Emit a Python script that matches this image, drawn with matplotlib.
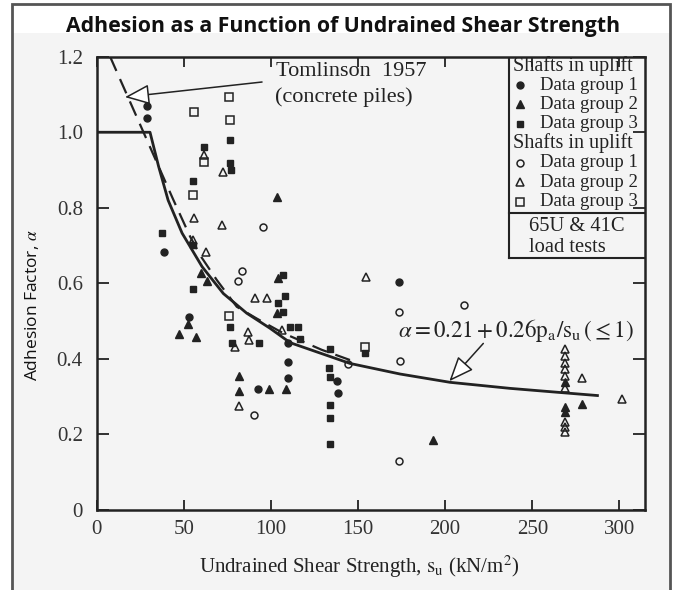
import matplotlib
matplotlib.use("Agg")
import matplotlib.pyplot as plt
from matplotlib.patches import Rectangle
from matplotlib.lines import Line2D

plt.rcParams["font.family"] = "Liberation Serif"
plt.rcParams["mathtext.fontset"] = "stix"

INK = "#222222"

# --- data (s_u in kN/m^2, alpha) ---
# shafts in uplift (filled markers)
up1_x = [28.7, 28.7, 38.6, 53.2, 92.8, 110.0, 110.0, 110.0, 138.1, 138.7, 173.7]
up1_y = [1.070, 1.038, 0.682, 0.512, 0.319, 0.443, 0.393, 0.349, 0.341, 0.310, 0.604]

up2_x = [103.7, 59.9, 63.1, 52.6, 47.4, 57.0, 81.9, 81.9, 99.1, 108.7, 104.2, 103.3,
         193.2, 278.4, 268.8, 268.8, 268.8]
up2_y = [0.828, 0.627, 0.606, 0.492, 0.466, 0.459, 0.355, 0.316, 0.319, 0.319, 0.613, 0.521,
         0.185, 0.281, 0.273, 0.259, 0.340]

up3_x = [76.5, 61.6, 76.5, 76.9, 55.5, 37.3, 55.5, 55.1, 107.1, 108.1, 104.2, 107.1,
         111.0, 115.7, 116.7, 76.5, 77.5, 93.3, 133.9, 133.5, 133.9, 133.9, 133.9, 133.9, 154.0]
up3_y = [0.979, 0.960, 0.919, 0.900, 0.871, 0.734, 0.701, 0.584, 0.622, 0.567, 0.547, 0.525,
         0.485, 0.485, 0.454, 0.484, 0.442, 0.441, 0.425, 0.375, 0.353, 0.278, 0.243, 0.176, 0.415]

# second set (open markers)
cp1_x = [95.3, 83.2, 81.3, 90.3, 144.4, 173.7, 211.0, 174.1, 173.5]
cp1_y = [0.748, 0.633, 0.606, 0.251, 0.386, 0.525, 0.543, 0.395, 0.130]

cp2_x = [61.6, 72.7, 55.9, 71.8, 55.5, 62.7, 90.9, 97.6, 87.0, 87.6, 106.2, 154.6, 81.5, 79.4,
         268.8, 268.8, 268.8, 268.8, 268.8, 268.8, 268.8, 268.8, 268.8, 278.4, 301.7]
cp2_y = [0.940, 0.895, 0.772, 0.754, 0.715, 0.684, 0.560, 0.560, 0.472, 0.450, 0.476, 0.616, 0.276, 0.432,
         0.426, 0.408, 0.390, 0.373, 0.355, 0.324, 0.234, 0.221, 0.207, 0.349, 0.293]

cp3_x = [76.1, 55.9, 76.5, 61.6, 55.5, 75.9, 154.0]
cp3_y = [1.094, 1.054, 1.032, 0.920, 0.834, 0.514, 0.432]

# design line alpha = 0.21 + 0.26 pa/su (<=1), traced
fit_x = [0, 30.6, 35.5, 41.0, 49.0, 60.5, 72.7, 86.1, 99.5, 111.0, 145.4, 174.1, 202.8, 237.2, 268.8, 287.4]
fit_y = [1.0, 1.0, 0.910, 0.820, 0.733, 0.644, 0.573, 0.521, 0.481, 0.443, 0.388, 0.360, 0.338, 0.322, 0.310, 0.303]

# Tomlinson 1957 (concrete piles), traced
tom_x = [7.7, 44.0, 53.6, 60.0, 68.9, 80.4, 91.8, 107.1, 129.2, 145.4]
tom_y = [1.200, 0.821, 0.724, 0.670, 0.609, 0.538, 0.507, 0.468, 0.424, 0.397]

x_ticks = [0, 50, 100, 150, 200, 250, 300]
y_ticks = [0, 0.2, 0.4, 0.6, 0.8, 1.0, 1.2]
y_tick_labels = ["0", "0.2", "0.4", "0.6", "0.8", "1.0", "1.2"]

fig = plt.figure(figsize=(6.76, 5.9), dpi=100)

# scanned panel look: grey frame and light background below the title
fig.add_artist(Rectangle((12 / 676, 0), 658 / 676, 1 - 33 / 590, transform=fig.transFigure,
                         facecolor="#f4f4f4", edgecolor="none", zorder=-2))
fig.add_artist(Rectangle((12 / 676, -0.05), 658 / 676, 1.05 - 4 / 590, transform=fig.transFigure,
                         facecolor="none", edgecolor="#555555", lw=2, zorder=-1))

fig.text(0.507, 1 - 32 / 590, "Adhesion as a Function of Undrained Shear Strength",
         ha="center", va="baseline", fontsize=15.3, fontweight="bold", family="Open Sans",
         color="#111111")

ax = fig.add_axes([96.7 / 676, 80 / 590, 548.3 / 676, 453.3 / 590])
ax.set_facecolor("none")
ax.set_xlim(0, 314.7)
ax.set_ylim(0, 1.2)

for s in ax.spines.values():
    s.set_linewidth(1.8)
    s.set_color(INK)

ax.set_xticks(x_ticks)
ax.set_yticks(y_ticks)
ax.set_yticklabels(y_tick_labels)
ax.tick_params(axis="x", direction="in", length=7, width=1.3, pad=7, labelsize=15,
               top=True, color=INK, labelcolor="#333333")
ax.tick_params(axis="y", direction="in", length=8.5, width=1.3, pad=10, labelsize=15,
               right=True, color=INK, labelcolor="#333333")

ax.plot(fit_x, fit_y, color=INK, lw=2.0, solid_joinstyle="round", zorder=3)
ax.plot(tom_x, tom_y, color=INK, lw=1.6, dashes=(7, 4), zorder=3)

fill = dict(ls="none", color=INK, zorder=4)
hollow = dict(ls="none", mfc="none", mec=INK, mew=1.1, zorder=4)
ax.plot(up1_x, up1_y, marker="o", ms=5.0, **fill)
ax.plot(up2_x, up2_y, marker="^", ms=5.6, **fill)
ax.plot(up3_x, up3_y, marker="s", ms=5.0, **fill)
ax.plot(cp1_x, cp1_y, marker="o", ms=5.0, **hollow)
ax.plot(cp2_x, cp2_y, marker="^", ms=5.8, **hollow)
ax.plot(cp3_x, cp3_y, marker="s", ms=5.2, **hollow)

# annotations
ax.text(103, 1.160, "Tomlinson  1957", fontsize=16, va="center", ha="left", color=INK)
ax.text(102.5, 1.094, "(concrete piles)", fontsize=16, va="center", ha="left", color=INK)
ax.annotate("", xy=(16.2, 1.093), xytext=(94.9, 1.133),
            arrowprops=dict(arrowstyle="-|>,head_length=1.1,head_width=0.45", fc="white",
                            ec=INK, lw=1.1, shrinkA=0, shrinkB=0, mutation_scale=14))
ax.text(173.1, 0.476, r"$\alpha = 0.21 + 0.26\mathrm{p_a/s_u}\,(\leq 1)$", fontsize=16.6,
        va="center", ha="left", color=INK)
ax.annotate("", xy=(202.4, 0.341), xytext=(221.9, 0.441),
            arrowprops=dict(arrowstyle="-|>,head_length=1.1,head_width=0.45", fc="white",
                            ec=INK, lw=1.1, shrinkA=0, shrinkB=0, mutation_scale=14))

# legend panel (drawn in axes fraction)
bx = 0.7525
ax.add_line(Line2D([bx, bx], [0.5566, 1.0], transform=ax.transAxes, color=INK, lw=1.5))
ax.add_line(Line2D([bx, 1.0], [0.6545, 0.6545], transform=ax.transAxes, color=INK, lw=1.5))
ax.add_line(Line2D([bx, 1.0], [0.5566, 0.5566], transform=ax.transAxes, color=INK, lw=1.5))

rows = [0.979, 0.937, 0.895, 0.852, 0.809, 0.766, 0.723, 0.680]
entries = [
    ("Shafts in uplift", None),
    ("Data group 1", dict(marker="o", ms=5.0, color=INK)),
    ("Data group 2", dict(marker="^", ms=5.6, color=INK)),
    ("Data group 3", dict(marker="s", ms=5.0, color=INK)),
    ("Shafts in uplift", None),
    ("Data group 1", dict(marker="o", ms=5.0, mfc="none", mec=INK, mew=1.1)),
    ("Data group 2", dict(marker="^", ms=5.8, mfc="none", mec=INK, mew=1.1)),
    ("Data group 3", dict(marker="s", ms=5.2, mfc="none", mec=INK, mew=1.1)),
]
for yy, (label, style) in zip(rows, entries):
    if style is None:
        ax.text(0.7587, yy, label, transform=ax.transAxes, fontsize=14.5, va="center", ha="left", color=INK)
    else:
        ax.add_line(Line2D([0.772], [yy], transform=ax.transAxes, ls="none", **style))
        ax.text(0.8085, yy, label, transform=ax.transAxes, fontsize=13.5, va="center", ha="left", color=INK)

ax.text(0.789, 0.6265, "65U & 41C", transform=ax.transAxes, fontsize=14.8, va="center", ha="left", color=INK)
ax.text(0.789, 0.5786, "load tests", transform=ax.transAxes, fontsize=14.8, va="center", ha="left", color=INK)

fig.text(359.5 / 676, 1 - 573 / 590, r"Undrained Shear Strength, $\mathrm{s_u}$ (kN/m$^2$)",
         ha="center", va="baseline", fontsize=15, color=INK)
fig.text(31.7 / 676, 1 - 305 / 590, r"Adhesion Factor, $\alpha$", rotation=90,
         ha="center", va="center", fontsize=12.5, family="Open Sans", color="#111111")

fig.savefig("out.png", dpi=100)
